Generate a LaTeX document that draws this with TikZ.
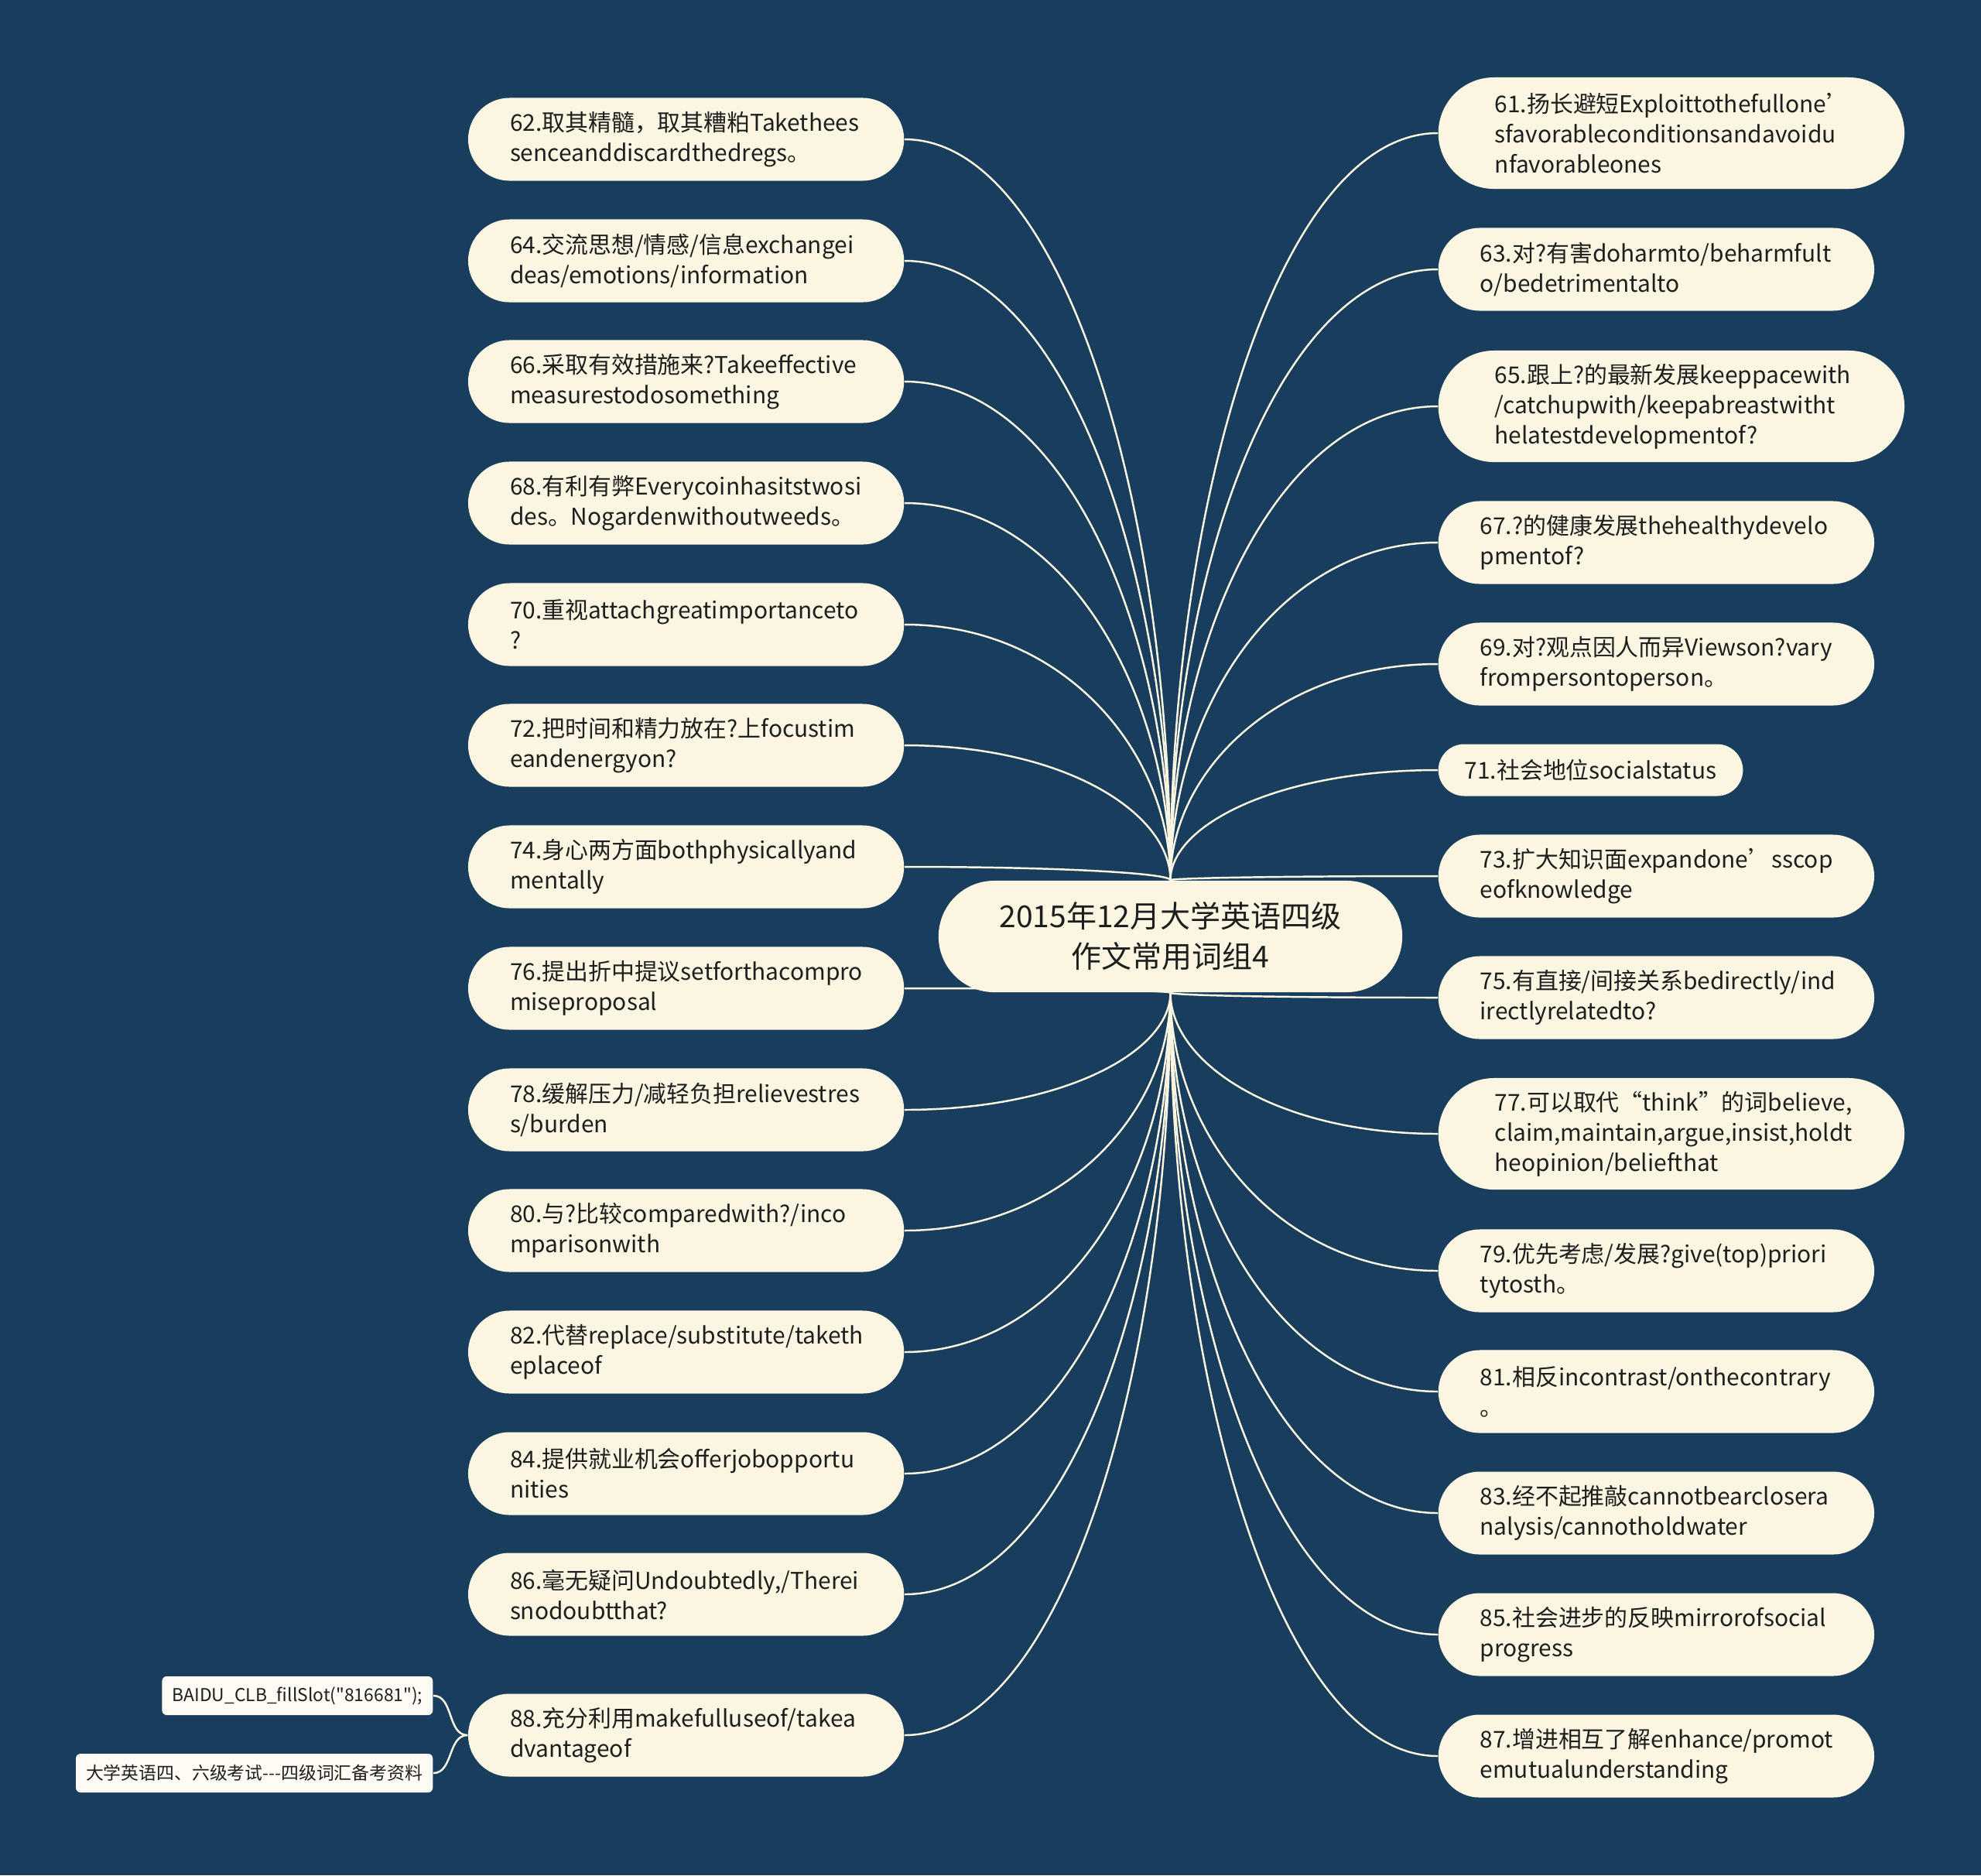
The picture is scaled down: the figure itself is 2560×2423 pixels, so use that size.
\documentclass[tikz,border=0pt]{standalone}
\usepackage{fontspec}
\setmainfont{Noto Sans CJK SC}
\newfontfamily\notefont{Noto Sans CJK SC}
\usepackage{tikz}
\usetikzlibrary{calc}
\pgfdeclarelayer{bg}
\pgfsetlayers{bg,main}
\definecolor{mbg}{HTML}{183D5D}
\definecolor{mcream}{HTML}{FBF6E2}
\definecolor{mink}{HTML}{1E1E1E}
\tikzset{leaf/.style = {fill = mcream, text = mink, align = left, inner ysep = 0,
    font = \fontsize{8.5}{11.1}\selectfont},
  leafii/.style = {leaf, rounded corners = 0.535cm, minimum height = 1.07cm,
    text width = 4.55cm, inner xsep = 0.54cm},
  leafiii/.style = {leaf, rounded corners = 0.72cm, minimum height = 1.44cm,
    text width = 4.56cm, inner xsep = 0.73cm},
  leafi/.style = {leaf, rounded corners = 0.335cm, minimum height = 0.67cm,
    inner xsep = 0.34cm},
  root/.style = {fill = mcream, text = mink, align = center, rounded corners = 0.72cm,
    minimum width = 5.99cm, minimum height = 1.44cm,
    font = \fontsize{11.1}{14.8}\selectfont},
  note/.style = {fill = white!60!mcream, text = mink, rounded corners = 0.06cm,
    minimum height = 0.5cm, inner xsep = 0.13cm, anchor = east,
    font = \notefont\fontsize{6.5}{8}\selectfont},
  link/.style = {draw = mcream, line width = 0.7pt}}

\begin{document}
\begin{tikzpicture}[x = 0.01cm, y = -0.01cm]
        \useasboundingbox (0, 0) rectangle (2560, 2423);
        \node [root] (root) at (1512.5, 1210) {2015年12月大学英语四级\\作文常用词组4};

        % left side
        \node [leafii, anchor = east] (l62) at (1169, 180) {62.取其精髓，取其糟粕Takethees\\senceanddiscardthedregs。};
        \node [leafii, anchor = east] (l64) at (1169, 337) {64.交流思想/情感/信息exchangei\\deas/emotions/information};
        \node [leafii, anchor = east] (l66) at (1169, 493) {66.采取有效措施来?Takeeffective\\measurestodosomething};
        \node [leafii, anchor = east] (l68) at (1169, 650) {68.有利有弊Everycoinhasitstwosi\\des。Nogardenwithoutweeds。};
        \node [leafii, anchor = east] (l70) at (1169, 807) {70.重视attachgreatimportanceto\\?};
        \node [leafii, anchor = east] (l72) at (1169, 963) {72.把时间和精力放在?上focustim\\eandenergyon?};
        \node [leafii, anchor = east] (l74) at (1169, 1120) {74.身心两方面bothphysicallyand\\mentally};
        \node [leafii, anchor = east] (l76) at (1169, 1277) {76.提出折中提议setforthacompro\\miseproposal};
        \node [leafii, anchor = east] (l78) at (1169, 1434) {78.缓解压力/减轻负担relievestres\\s/burden};
        \node [leafii, anchor = east] (l80) at (1169, 1590) {80.与?比较comparedwith?/inco\\mparisonwith};
        \node [leafii, anchor = east] (l82) at (1169, 1747) {82.代替replace/substitute/taketh\\eplaceof};
        \node [leafii, anchor = east] (l84) at (1169, 1904) {84.提供就业机会offerjobopportu\\nities};
        \node [leafii, anchor = east] (l86) at (1169, 2060) {86.毫无疑问Undoubtedly,/Therei\\snodoubtthat?};
        \node [leafii, anchor = east] (l88) at (1169, 2242) {88.充分利用makefulluseof/takea\\dvantageof};

        % right side
        \node [leafiii, anchor = west] (r61) at (1858, 172) {61.扬长避短Exploittothefullone’\\sfavorableconditionsandavoidu\\nfavorableones};
        \node [leafii, anchor = west] (r63) at (1858, 348) {63.对?有害doharmto/beharmfult\\o/bedetrimentalto};
        \node [leafiii, anchor = west] (r65) at (1858, 525) {65.跟上?的最新发展keeppacewith\\/catchupwith/keepabreastwitht\\helatestdevelopmentof?};
        \node [leafii, anchor = west] (r67) at (1858, 701) {67.?的健康发展thehealthydevelo\\pmentof?};
        \node [leafii, anchor = west] (r69) at (1858, 858) {69.对?观点因人而异Viewson?vary\\frompersontoperson。};
        \node [leafi, anchor = west] (r71) at (1858, 995) {71.社会地位socialstatus};
        \node [leafii, anchor = west] (r73) at (1858, 1132) {73.扩大知识面expandone’sscop\\eofknowledge};
        \node [leafii, anchor = west] (r75) at (1858, 1289) {75.有直接/间接关系bedirectly/ind\\irectlyrelatedto?};
        \node [leafiii, anchor = west] (r77) at (1858, 1465) {77.可以取代“think”的词believe,\\claim,maintain,argue,insist,holdt\\heopinion/beliefthat};
        \node [leafii, anchor = west] (r79) at (1858, 1642) {79.优先考虑/发展?give(top)priori\\tytosth。};
        \node [leafii, anchor = west] (r81) at (1858, 1798) {81.相反incontrast/onthecontrary\\。};
        \node [leafii, anchor = west] (r83) at (1858, 1955) {83.经不起推敲cannotbearclosera\\nalysis/cannotholdwater};
        \node [leafii, anchor = west] (r85) at (1858, 2112) {85.社会进步的反映mirrorofsocial\\progress};
        \node [leafii, anchor = west] (r87) at (1858, 2269) {87.增进相互了解enhance/promot\\emutualunderstanding};

        % notes on 88
        \node [note] (n1) at (560, 2191) {BAIDU\_CLB\_fillSlot("816681");};
        \node [note] (n2) at (560, 2291) {大学英语四、六级考试-{}-{}-四级词汇备考资料};

        \begin{pgfonlayer}{bg}
          \fill [mbg] (0, 0) rectangle (2560, 2423);
          \foreach \n in {l62, l64, l66, l68, l70, l72, l74}
            \draw [link] (\n.east) .. controls ($(\n.east)!0.6!(root.north |- \n.east)$)
              and ($(root.north)!0.5!(root.north |- \n.east)$) .. (root.north);
          \foreach \n in {l76, l78, l80, l82, l84, l86, l88}
            \draw [link] (\n.east) .. controls ($(\n.east)!0.6!(root.south |- \n.east)$)
              and ($(root.south)!0.5!(root.south |- \n.east)$) .. (root.south);
          \foreach \n in {r61, r63, r65, r67, r69, r71, r73}
            \draw [link] (\n.west) .. controls ($(\n.west)!0.6!(root.north |- \n.west)$)
              and ($(root.north)!0.5!(root.north |- \n.west)$) .. (root.north);
          \foreach \n in {r75, r77, r79, r81, r83, r85, r87}
            \draw [link] (\n.west) .. controls ($(\n.west)!0.6!(root.south |- \n.west)$)
              and ($(root.south)!0.5!(root.south |- \n.west)$) .. (root.south);
          \draw [link] (l88.west) to [out = 180, in = 0] (n1.east);
          \draw [link] (l88.west) to [out = 180, in = 0] (n2.east);
        \end{pgfonlayer}
      \end{tikzpicture}
\end{document}
